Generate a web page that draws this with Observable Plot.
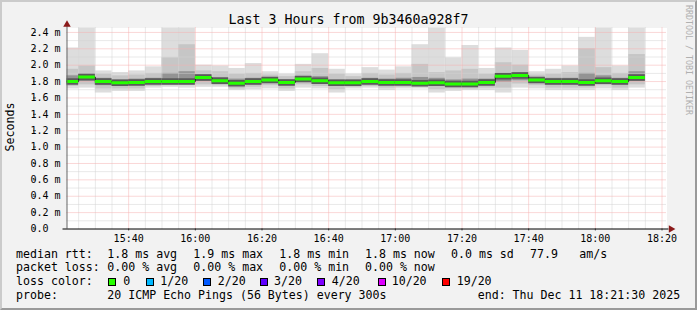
<!DOCTYPE html>
<html><head><meta charset="utf-8">
<script src="https://cdn.jsdelivr.net/npm/d3@7"></script>
<script src="https://cdn.jsdelivr.net/npm/@observablehq/plot@0.6"></script>
<style>
html,body{margin:0;padding:0;background:#f2f2f2;}
#wrap{position:relative;width:697px;height:310px;background:#f2f2f2;overflow:hidden;font-family:"DejaVu Sans Mono",monospace;}
#chart{position:absolute;left:0;top:0;}
#frame{position:absolute;left:0;top:0;width:697px;height:310px;box-sizing:border-box;border-style:solid;border-width:2px;border-color:#cbcbcb #9a9a9a #9a9a9a #cbcbcb;pointer-events:none;}
.t{position:absolute;white-space:pre;color:#000;line-height:1;font-family:"DejaVu Sans Mono",monospace;}
.box{position:absolute;box-sizing:border-box;border:1px solid #000;}
</style></head><body><div id="wrap"><div id="chart"></div><div id="frame"></div></div>
<script>
// ---- data ----
const titleText = "Last 3 Hours from 9b3460a928f7";
const yLabelText = "Seconds";
const watermark = "RRDTOOL / TOBI OETIKER";
const startTime = "15:21:30", endTime = "18:21:30";
const endTimes = ["15:25","15:30","15:35","15:40","15:45","15:50","15:55","16:00","16:05","16:10","16:15","16:20","16:25","16:30","16:35","16:40","16:45","16:50","16:55","17:00","17:05","17:10","17:15","17:20","17:25","17:30","17:35","17:40","17:45","17:50","17:55","18:00","18:05","18:10","18:15"];
const hi  = [2.21,2.6,1.93,1.91,1.93,1.98,2.6,2.6,2.00,1.99,1.96,2.02,1.92,1.89,2.01,2.14,1.95,1.89,1.97,1.94,1.98,2.25,2.6,2.09,2.24,1.96,2.21,2.18,1.92,1.95,1.99,2.34,2.6,1.99,2.6];
const hi2 = [1.95,1.99,1.89,1.87,1.88,1.90,2.09,2.25,1.93,1.92,1.89,1.90,1.88,1.86,1.92,1.96,1.89,1.86,1.90,1.88,1.90,2.01,1.91,1.93,1.95,1.89,2.03,2.00,1.88,1.89,1.91,2.20,1.97,1.90,2.13];
const up  = [1.87,1.89,1.84,1.82,1.83,1.84,1.90,1.92,1.88,1.85,1.83,1.84,1.85,1.82,1.86,1.86,1.82,1.82,1.84,1.83,1.84,1.85,1.84,1.82,1.83,1.83,1.90,1.91,1.85,1.84,1.84,1.90,1.87,1.84,1.92];
const med = [1.80,1.855,1.80,1.785,1.79,1.80,1.80,1.80,1.85,1.81,1.78,1.80,1.82,1.79,1.83,1.81,1.785,1.785,1.80,1.79,1.79,1.78,1.785,1.77,1.77,1.79,1.865,1.875,1.82,1.80,1.80,1.79,1.81,1.80,1.85];
const low = [1.77,1.80,1.75,1.75,1.75,1.77,1.77,1.77,1.80,1.77,1.74,1.76,1.78,1.75,1.79,1.77,1.74,1.76,1.77,1.75,1.76,1.75,1.74,1.74,1.74,1.75,1.79,1.81,1.78,1.76,1.76,1.76,1.78,1.76,1.80];
const lo2 = [1.74,1.76,1.71,1.71,1.71,1.74,1.75,1.75,1.76,1.75,1.71,1.73,1.75,1.71,1.76,1.74,1.70,1.73,1.74,1.72,1.73,1.73,1.70,1.71,1.71,1.72,1.72,1.77,1.75,1.72,1.72,1.72,1.75,1.72,1.76];
const lo  = [1.71,1.72,1.66,1.68,1.68,1.72,1.73,1.72,1.73,1.73,1.69,1.70,1.71,1.68,1.72,1.71,1.66,1.71,1.72,1.69,1.71,1.71,1.66,1.68,1.69,1.69,1.66,1.72,1.71,1.69,1.69,1.69,1.71,1.69,1.72];
const xTickLabels = ["15:40","16:00","16:20","16:40","17:00","17:20","17:40","18:00","18:20"];
const yTickValues = [0,0.2,0.4,0.6,0.8,1.0,1.2,1.4,1.6,1.8,2.0,2.2,2.4];
const yTickLabels = ["0.0","0.2 m","0.4 m","0.6 m","0.8 m","1.0 m","1.2 m","1.4 m","1.6 m","1.8 m","2.0 m","2.2 m","2.4 m"];
const lossColors = ["#26ff00","#00b8ff","#0059ff","#5e00ff","#7e00ff","#dd00ff","#ff0000"];
const lossLabels = ["0","1/20","2/20","3/20","4/20","10/20","19/20"];
const rttRow = ["median rtt:","1.8 ms avg","1.9 ms max","1.8 ms min","1.8 ms now","0.0 ms sd","77.9","am/s"];
const lossRow = ["packet loss:","0.00 % avg","0.00 % max","0.00 % min","0.00 % now"];
const probeRow = ["probe:","20 ICMP Echo Pings (56 Bytes) every 300s","end: Thu Dec 11 18:21:30 2025"];
const lossColorLabel = "loss color:";

// ---- build ----
const T = s => { const [h,m,sec=0] = s.split(":").map(Number); return new Date(2025,11,11,h,m,sec); };
const data = endTimes.map((e,i) => ({x1: new Date(+T(e) - 5*60000), x2: T(e), hi: hi[i], hi2: hi2[i], up: up[i], med: med[i], low: low[i], lo2: lo2[i], lo: lo[i]}));
const t0 = T(startTime), t1 = T(endTime);
const xTicks = xTickLabels.map(T);
const xMinor = d3.timeMinute.every(5).range(t0, t1).filter(d => !xTicks.some(t => +t === +d));
const yMinor = d3.range(1, 24, 2).map(k => k/10);

const plot = Plot.plot({
  width: 697, height: 310,
  marginLeft: 66.5, marginRight: 30.5, marginTop: 27.5, marginBottom: 81.5,
  style: {background: "transparent", fontFamily: "DejaVu Sans Mono", fontSize: "10px", color: "#000", overflow: "visible"},
  x: {type: "time", domain: [t0, t1]},
  y: {domain: [0, 2.454]},
  marks: [
    Plot.frame({fill: "#ffffff", stroke: null}),
    Plot.rect(data, {x1: "x1", x2: "x2", y1: "lo", y2: "hi", fill: "#dddddd", clip: true}),
    Plot.rect(data, {x1: "x1", x2: "x2", y1: "lo2", y2: "hi2", fill: "#c6c6c6", clip: true}),
    Plot.rect(data, {x1: "x1", x2: "x2", y1: "low", y2: "up", fill: "#939393", clip: true}),
    Plot.gridY(yMinor, {stroke: "#d2d2d2", strokeOpacity: 1, strokeDasharray: "1,1"}),
    Plot.gridX(xMinor, {stroke: "#d2d2d2", strokeOpacity: 1, strokeDasharray: "1,1"}),
    Plot.gridY(yTickValues.slice(1), {stroke: "#f5b0b0", strokeOpacity: 1, strokeDasharray: "1,1"}),
    Plot.gridX(xTicks, {stroke: "#f5b0b0", strokeOpacity: 1, strokeDasharray: "1,1"}),
    Plot.ruleY(data, {y: "med", x1: "x1", x2: "x2", stroke: "#5a5a5a", strokeWidth: 6.5, clip: true}),
    Plot.line(data, {x: "x1", y: "med", curve: "step-after", stroke: "#222", strokeWidth: 1, clip: true}),
    Plot.ruleY(data, {y: "med", x1: "x1", x2: "x2", stroke: lossColors[0], strokeWidth: 3, clip: true}),
    Plot.axisY(yTickValues, {anchor: "left", tickSize: 3, tickPadding: 3, stroke: "#555", textAnchor: "start", dx: -30.5,
      tickFormat: d => yTickLabels[yTickValues.indexOf(d)], fill: "#000"}),
    Plot.axisX(xTicks, {anchor: "bottom", tickSize: 2, tickPadding: 3.5, stroke: "#555",
      tickFormat: d => xTickLabels[xTicks.findIndex(t => +t === +d)], fill: "#000"}),
    Plot.ruleX([t0], {stroke: "#666", insetTop: -3}),
    Plot.ruleY([0], {stroke: "#000", insetLeft: -4, insetRight: -2}),
    Plot.dot([t1], {x: d => d, y: () => 0, symbol: "triangle", r: 2.8, rotate: 90, dx: 4, fill: "#8b1a1a", stroke: null}),
    Plot.dot([t0], {x: d => d, y: () => 2.454, symbol: "triangle", r: 2.8, dy: -3.5, fill: "#8b1a1a", stroke: null})
  ]
});
document.getElementById("chart").appendChild(plot);

// ---- texts (title, legend, labels) ----
const wrap = document.getElementById("wrap");
function addText(txt, x, baseline, size, color) {
  const el = document.createElement("div");
  el.className = "t"; el.textContent = txt;
  el.style.left = x + "px"; el.style.top = (baseline - 0.846 * size) + "px";
  el.style.fontSize = size + "px"; if (color) el.style.color = color;
  wrap.insertBefore(el, document.getElementById("frame"));
  return el;
}
const title = addText(titleText, 0, 24.3, 13.3);
title.style.left = "0px"; title.style.width = "697px"; title.style.textAlign = "center";

function addRot(txt, cx, cy, size, deg, color) {
  const el = document.createElement("div");
  el.className = "t"; el.textContent = txt; el.style.fontSize = size + "px";
  el.style.left = cx + "px"; el.style.top = cy + "px";
  el.style.transform = `translate(-50%,-50%) rotate(${deg}deg)`;
  if (color) el.style.color = color;
  wrap.insertBefore(el, document.getElementById("frame"));
}
addRot(yLabelText, 10.5, 127, 11.6, -90);
addRot(watermark, 688.5, 60, 8.3, 90, "#b0b0b0");

const F = 11.6;
const colX = [16, 107.3, 193.3, 279.3, 365, 451, 530, 579.3];
rttRow.forEach((s, i) => addText(s, colX[i], 258.5, F));
lossRow.forEach((s, i) => addText(s, colX[i], 272.3, F));
addText(lossColorLabel, 16, 286.1, F);
const boxX = [108.3, 146, 203.3, 260, 317.3, 377.7, 441.7];
const lblX = [123.3, 160.3, 217.7, 274, 331.7, 391.7, 456.7];
lossLabels.forEach((s, i) => {
  const b = document.createElement("div");
  b.className = "box"; b.style.left = boxX[i] + "px"; b.style.top = "278.3px";
  b.style.width = "8px"; b.style.height = "8px"; b.style.background = lossColors[i];
  wrap.insertBefore(b, document.getElementById("frame"));
  addText(s, lblX[i], 286.1, F);
});
const probeX = [16, 107.3, 477.7];
probeRow.forEach((s, i) => addText(s, probeX[i], 300, F));
</script></body></html>
